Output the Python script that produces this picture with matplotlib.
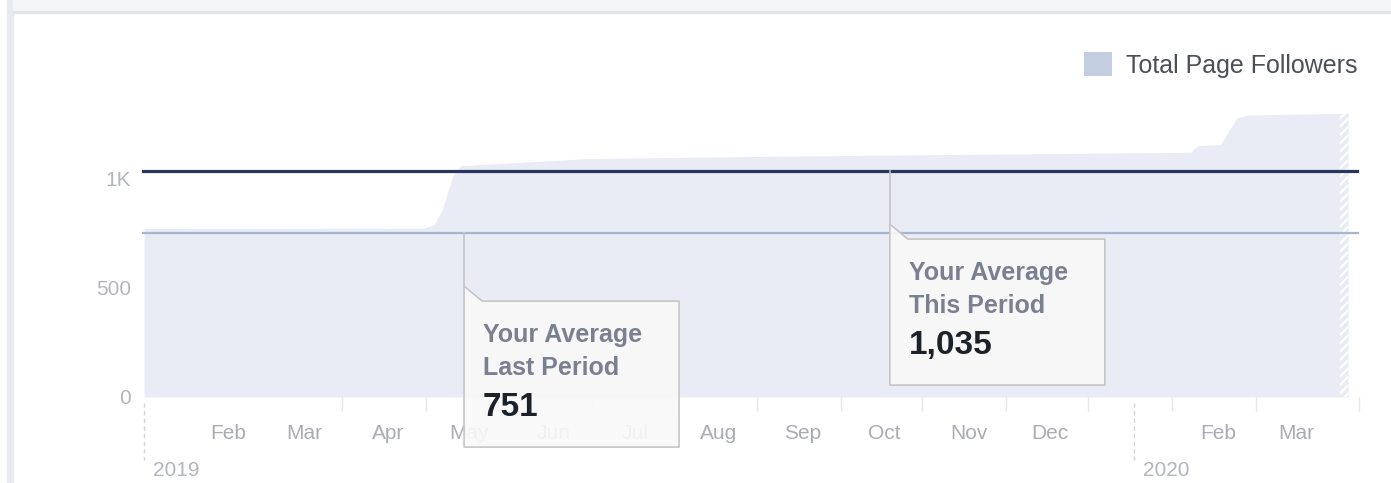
import matplotlib
matplotlib.use("Agg")
import matplotlib.pyplot as plt
import matplotlib.dates as mdates
import matplotlib.transforms as mtransforms
from matplotlib.patches import Polygon, Patch, Rectangle
import pandas as pd

plt.rcParams['font.family'] = ['Liberation Sans', 'DejaVu Sans']

# Total page followers
dates = ["2019-01-01", "2019-04-14", "2019-04-18", "2019-04-21", "2019-04-23",
         "2019-04-25", "2019-04-28", "2019-05-20", "2019-06-13", "2019-08-01",
         "2019-10-01", "2019-12-01", "2020-01-22", "2020-01-23", "2020-01-25",
         "2020-02-02", "2020-02-05", "2020-02-08", "2020-02-12", "2020-03-20"]
followers = [772, 773, 790, 860, 940,
             1020, 1060, 1075, 1092, 1100,
             1108, 1115, 1121, 1136, 1152,
             1156, 1220, 1278, 1292, 1300]
partial_dates = ["2020-03-17", "2020-03-20"]

avg_last = 751
avg_this = 1035
callout_dates = ["2019-04-29", "2019-10-03"]
callout_values = [avg_last, avg_this]
callout_titles = [("Your Average", "Last Period"), ("Your Average", "This Period")]
callout_numbers = ["751", "1,035"]

y_ticks = [0, 500, 1000]
y_labels = ["0", "500", "1K"]
year_starts = ["2019-01-01", "2020-01-01"]
year_labels = ["2019", "2020"]
minor_tick_dates = pd.date_range("2019-02-15", "2020-02-15", freq="MS") + pd.Timedelta(days=14)
x_start, x_end = pd.Timestamp("2018-12-31 06:00"), pd.Timestamp("2020-03-24")

dates = pd.to_datetime(dates)
partial_dates = pd.to_datetime(partial_dates)

fig = plt.figure(figsize=(13.91, 4.83), dpi=100)
W, H = 1391, 483

# page chrome: left strip and top bar
fig.patches.append(Rectangle((7 / W, 0), 6 / W, 1, transform=fig.transFigure,
                             color='#e9eaed', zorder=0))
fig.patches.append(Rectangle((13 / W, 1 - 11 / H), 1, 11 / H, transform=fig.transFigure,
                             color='#f5f6f7', zorder=0))
fig.patches.append(Rectangle((13 / W, 1 - 12.5 / H), 1, 1.5 / H, transform=fig.transFigure,
                             color='#e3e4e8', zorder=0))

ax = fig.add_axes([142 / W, (H - 397) / H, (1359 - 142) / W, (397 - 91.4) / H])
ax.set_xlim(x_start, x_end)
ax.set_ylim(0, 1400)
for s in ax.spines.values():
    s.set_visible(False)

area_color = '#e9ecf4'
ax.fill_between(dates, followers, color=area_color, lw=0, zorder=1)
# partial-period hatch at the end
plt.rcParams['hatch.linewidth'] = 1.5
ax.fill_between([partial_dates[0], partial_dates[1]], [followers[-1], followers[-1]],
                facecolor='none', edgecolor='white', hatch='////', lw=0, zorder=1.2)

ax.axhline(avg_last, color='#a9b4d0', lw=1.6, zorder=2)
ax.axhline(avg_this, color='#27375c', lw=2.3, zorder=2)

# axes ticks
ax.set_yticks(y_ticks)
ax.set_yticklabels(y_labels)
ax.tick_params(axis='y', length=0, pad=8, labelsize=15, labelcolor='#b3b6bc')

ax.xaxis.set_major_locator(mdates.MonthLocator(bymonth=range(2, 13)))
ax.xaxis.set_major_formatter(mdates.DateFormatter('%b'))
ax.set_xticks(list(minor_tick_dates) + [x_end], minor=True)
ax.tick_params(axis='x', which='major', length=0, pad=19.5, labelsize=15,
               labelcolor='#a9acb3')
ax.tick_params(axis='x', which='minor', length=10, width=1, color='#e6e7ea',
               direction='out', pad=2)

# year separators
for ys, yl in zip(pd.to_datetime(year_starts), year_labels):
    ax.plot([ys, ys], [-0.02, -0.205], transform=ax.get_xaxis_transform(),
            color='#d0d2d6', lw=1, ls=(0, (3, 2.5)), clip_on=False)
    ax.annotate(yl, xy=(ys, 0), xycoords=('data', 'axes fraction'),
                xytext=(9, -74), textcoords='offset pixels', ha='left', va='center',
                fontsize=15, color='#b3b6bc', annotation_clip=False)

# callouts
fig.canvas.draw()
shape = [(0, -53), (18, -68), (215, -68), (215, -214), (0, -214)]
for d, v, (t1, t2), num in zip(pd.to_datetime(callout_dates), callout_values,
                               callout_titles, callout_numbers):
    px, py = ax.transData.transform((mdates.date2num(d), v))
    tr = mtransforms.Affine2D().translate(px, py)
    ax.add_line(plt.Line2D([0, 0], [0, -53], transform=tr, color='#c4c4c4',
                           lw=1.2, zorder=5, clip_on=False))
    box = Polygon(shape, closed=True, transform=tr, facecolor='#f9f9f9', alpha=0.9,
                  edgecolor='none', zorder=5, clip_on=False)
    ax.add_patch(box)
    border = Polygon(shape, closed=True, transform=tr, facecolor='none',
                     edgecolor='#c6c6c6', lw=1.2, zorder=5.1, clip_on=False,
                     joinstyle='round')
    ax.add_patch(border)
    for txt, dy, fs, col in [(t1, -102, 18, '#7b8091'), (t2, -135, 18, '#7b8091'),
                             (num, -174, 24, '#1d2129')]:
        ax.annotate(txt, xy=(d, v), xytext=(19, dy), textcoords='offset pixels',
                    ha='left', va='center', fontsize=fs, fontweight='bold', color=col,
                    zorder=6, annotation_clip=False)

# legend
fig.legend(handles=[Patch(facecolor='#c5cde0', edgecolor='none', label='Total Page Followers')],
           loc='center right', bbox_to_anchor=(1358 / W, 1 - 65 / H), frameon=False,
           fontsize=18, labelcolor='#4b4f56', handlelength=1.1, handleheight=1.1,
           handletextpad=0.6, borderpad=0, borderaxespad=0)

fig.savefig('out.png', dpi=100)
